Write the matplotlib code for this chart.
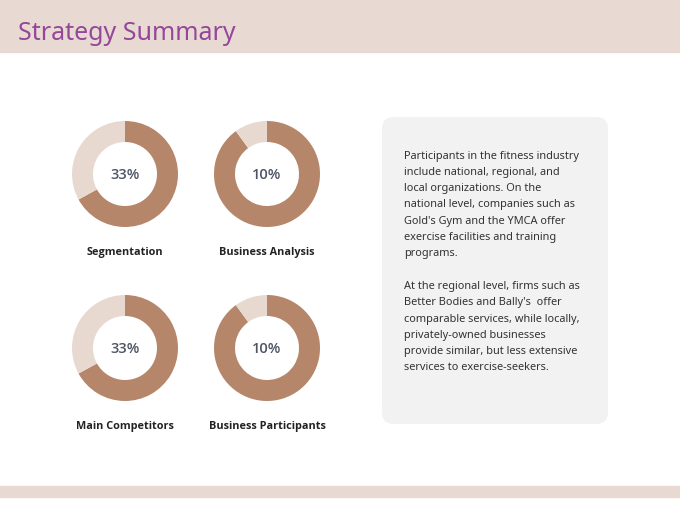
import matplotlib
matplotlib.use("Agg")
import matplotlib.pyplot as plt
from matplotlib.patches import Rectangle, FancyBboxPatch

plt.rcParams['font.family'] = ['Noto Sans', 'DejaVu Sans']

# data
labels = ["Segmentation", "Business Analysis", "Main Competitors", "Business Participants"]
shares = [33, 10, 33, 10]
title = "Strategy Summary"
body_lines = [
    "Participants in the fitness industry",
    "include national, regional, and",
    "local organizations. On the",
    "national level, companies such as",
    "Gold's Gym and the YMCA offer",
    "exercise facilities and training",
    "programs.",
    "",
    "At the regional level, firms such as",
    "Better Bodies and Bally's  offer",
    "comparable services, while locally,",
    "privately-owned businesses",
    "provide similar, but less extensive",
    "services to exercise-seekers.",
]

beige = "#E8DAD2"
dark = "#B5866A"
light = "#E8D9D0"
bold_fonts = ['Open Sans', 'Lato', 'DejaVu Sans']

fig = plt.figure(figsize=(6.8, 5.1), dpi=100)
ax = fig.add_axes([0, 0, 1, 1])
ax.set_xlim(0, 680)
ax.set_ylim(0, 510)
ax.set_aspect("equal")
ax.axis("off")

H = 510
# header and footer bands
ax.add_patch(Rectangle((0, H - 53), 680, 53, color=beige, zorder=0))
ax.add_patch(Rectangle((0, H - 498), 680, 11, color=beige, zorder=0))
ax.text(18, H - 33.5, title, fontsize=18, color="#95479A", va="center", ha="left")

# donuts
centers = [(125, 175), (267, 175), (125, 349), (267, 349)]
for (cx, cy), lab, s in zip(centers, labels, shares):
    ax.pie([100 - s, s], colors=[dark, light], startangle=90, counterclock=False,
           center=(cx, H - cy), radius=53, wedgeprops=dict(width=21, linewidth=0))
    ax.text(cx, H - cy, f"{s}%", fontsize=10.5, fontweight="semibold", color="#4F5566",
            ha="center", va="center", family=bold_fonts)
    ax.text(cx, H - cy - 77.5, lab, fontsize=7.8, fontweight="bold", color="#222222",
            ha="center", va="center", family=bold_fonts)

ax.set_xlim(0, 680)
ax.set_ylim(0, 510)

# text box
ax.add_patch(FancyBboxPatch((382, H - 425), 226, 307, boxstyle="round,pad=0,rounding_size=12",
                            facecolor="#F2F2F2", edgecolor="none", zorder=1))
y = 156
for line in body_lines:
    ax.text(404, H - y, line, fontsize=7.9, color="#333333", ha="left", va="center", zorder=2)
    y += 16.3

fig.savefig("out.png", dpi=100)
